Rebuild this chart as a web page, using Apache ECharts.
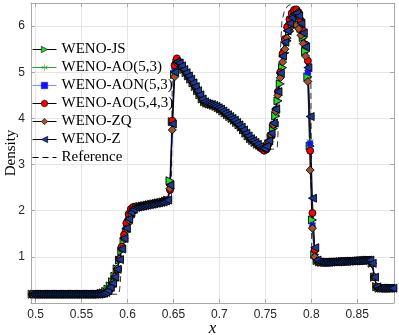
<!DOCTYPE html>
<html>
<head>
<meta charset="utf-8">
<script src="https://cdn.jsdelivr.net/npm/echarts@6/dist/echarts.min.js"></script>
<style>
  html, body { margin: 0; padding: 0; background: #fff; }
  #chart { width: 399px; height: 335px; }
</style>
</head>
<body>
<div id="chart"></div>
<script>
// mesh: cell centres x0 + i*dx, 158 cells shown
var x0 = 0.49625
var dx = 0.0025

// parts of the density profile that all schemes share
var leftState = [0.19, 0.19, 0.19, 0.19, 0.19, 0.19, 0.19, 0.19, 0.19, 0.19,
  0.19, 0.19, 0.19, 0.19, 0.19, 0.19, 0.19, 0.19, 0.19, 0.19,
  0.19, 0.19, 0.19, 0.19, 0.19, 0.19, 0.19, 0.19, 0.19, 0.19]
var plateauLo = [2.08, 2.09, 2.10, 2.11, 2.12, 2.13, 2.14, 2.15, 2.16, 2.17, 2.18, 2.19, 2.21, 2.23]
var plateauHi = [5.06, 4.99, 4.92, 4.85, 4.77, 4.69, 4.60, 4.51, 4.42, 4.36, 4.33, 4.31, 4.30, 4.28,
  4.26, 4.23, 4.20, 4.16, 4.12, 4.08, 4.04, 4.00, 3.96, 3.91, 3.86, 3.81, 3.75, 3.68,
  3.62, 3.56, 3.52, 3.48, 3.44]
var rightState = [0.89, 0.88, 0.88, 0.88, 0.88, 0.885, 0.89, 0.89, 0.89, 0.895, 0.90, 0.90,
  0.90, 0.905, 0.91, 0.91, 0.91, 0.915, 0.92, 0.92, 0.925, 0.93, 0.93,
  0.86, 0.56, 0.35, 0.32, 0.32, 0.32, 0.32, 0.32, 0.32, 0.32]

// contact (x 0.571-0.609), jump (0.646-0.659), peak + shock (0.744-0.806)
var jsContact = [0.21, 0.22, 0.25, 0.30, 0.37, 0.46, 0.58, 0.74, 0.93, 1.13, 1.34, 1.54, 1.72, 1.86, 1.96, 2.03]
var jsJump = [2.65, 3.93, 4.95, 5.20, 5.19, 5.13]
var jsPeak = [3.42, 3.38, 3.36, 3.37, 3.45, 3.58, 3.78, 4.05, 4.38, 4.75, 5.10, 5.42, 5.68,
  5.88, 6.02, 6.10, 6.12, 6.08, 5.95, 5.75, 5.45, 4.90, 3.40, 1.80, 1.05, 0.92]

var ao53Contact = [0.20, 0.21, 0.23, 0.27, 0.33, 0.42, 0.55, 0.72, 0.93, 1.16, 1.40, 1.63, 1.83, 1.97, 2.04, 2.07]
var ao53Jump = [2.50, 3.90, 5.05, 5.24, 5.20, 5.14]
var ao53Peak = [3.39, 3.35, 3.33, 3.37, 3.48, 3.64, 3.87, 4.18, 4.56, 4.97, 5.36, 5.67, 5.93,
  6.10, 6.22, 6.29, 6.30, 6.24, 6.08, 5.87, 5.57, 5.00, 3.50, 1.70, 1.00, 0.90]

var aonContact = [0.20, 0.21, 0.23, 0.26, 0.33, 0.42, 0.55, 0.72, 0.94, 1.17, 1.41, 1.64, 1.84, 1.97, 2.04, 2.07]
var aonJump = [2.52, 3.90, 5.05, 5.24, 5.20, 5.14]
var aonPeak = [3.39, 3.35, 3.33, 3.37, 3.48, 3.64, 3.88, 4.19, 4.57, 4.98, 5.37, 5.68, 5.94,
  6.11, 6.23, 6.30, 6.31, 6.25, 6.09, 5.88, 5.58, 5.00, 3.45, 1.68, 1.00, 0.90]

var ao543Contact = [0.19, 0.20, 0.21, 0.24, 0.30, 0.39, 0.53, 0.72, 0.96, 1.22, 1.48, 1.73, 1.93, 2.04, 2.08, 2.09]
var ao543Jump = [2.45, 3.95, 5.15, 5.30, 5.22, 5.15]
var ao543Peak = [3.38, 3.34, 3.30, 3.33, 3.45, 3.62, 3.86, 4.18, 4.58, 5.00, 5.40, 5.72, 5.98,
  6.15, 6.28, 6.35, 6.36, 6.30, 6.12, 5.90, 5.60, 5.25, 3.30, 1.95, 1.15, 0.92]

var zqContact = [0.20, 0.21, 0.23, 0.27, 0.34, 0.44, 0.57, 0.74, 0.95, 1.17, 1.40, 1.61, 1.80, 1.94, 2.02, 2.06]
var zqJump = [2.48, 3.75, 4.90, 5.20, 5.19, 5.13]
var zqPeak = [3.40, 3.37, 3.36, 3.40, 3.50, 3.65, 3.86, 4.15, 4.50, 4.88, 5.22, 5.50, 5.74,
  5.90, 6.00, 6.04, 6.02, 5.94, 5.80, 5.62, 5.35, 4.80, 2.88, 1.62, 1.00, 0.91]

var zContact = [0.20, 0.21, 0.23, 0.27, 0.34, 0.43, 0.56, 0.73, 0.94, 1.17, 1.40, 1.62, 1.82, 1.96, 2.03, 2.07]
var zJump = [2.55, 3.88, 5.00, 5.22, 5.20, 5.14]
var zPeak = [3.39, 3.36, 3.35, 3.40, 3.52, 3.68, 3.90, 4.20, 4.58, 4.98, 5.35, 5.65, 5.90,
  6.06, 6.18, 6.26, 6.28, 6.22, 6.06, 5.85, 5.55, 5.10, 4.04, 2.27, 1.20, 0.93]

// reference solution (fine mesh)
var refX = [0.495, 0.5905, 0.5915, 0.594, 0.5965, 0.5985, 0.602, 0.61, 0.645, 0.6478, 0.6488, 0.652,
  0.66, 0.67, 0.68, 0.683, 0.69, 0.70, 0.71, 0.72, 0.73, 0.74, 0.75, 0.758, 0.763, 0.7645, 0.766,
  0.768, 0.771, 0.775, 0.779, 0.783, 0.787, 0.79, 0.793, 0.796, 0.7985, 0.7995, 0.8005, 0.81,
  0.865, 0.8665, 0.8675, 0.89]
var refRho = [0.19, 0.19, 0.30, 0.90, 1.65, 1.95, 2.05, 2.08, 2.24, 2.27, 5.22, 5.27,
  5.08, 4.78, 4.46, 4.36, 4.30, 4.21, 4.05, 3.86, 3.64, 3.46, 3.36, 3.33, 3.36, 4.00, 5.30,
  6.10, 6.35, 6.45, 6.47, 6.42, 6.26, 6.05, 5.72, 5.30, 4.95, 4.85, 0.90, 0.89,
  0.93, 0.93, 0.32, 0.32]

var xTicks = [0.5, 0.55, 0.6, 0.65, 0.7, 0.75, 0.8, 0.85]
var yTicks = [1, 2, 3, 4, 5, 6]

function profile(contact, jump, peak) {
  var rho = [].concat(leftState, contact, plateauLo, jump, plateauHi, peak, rightState)
  return rho.map(function (r, i) {
    return [+(x0 + i * dx).toFixed(5), r]
  })
}

var serif = 'Liberation Serif'
var frame = '#a8a8a8'
var asterisk = 'path://M0,-5L0,5M-4.3,-2.5L4.3,2.5M-4.3,2.5L4.3,-2.5'

function scheme(name, data, opt) {
  return {
    name: name,
    type: 'line',
    data: data,
    symbol: opt.symbol,
    symbolSize: opt.size,
    symbolRotate: opt.rotate || 0,
    showSymbol: true,
    itemStyle: {
      color: opt.fill,
      borderColor: opt.edge,
      borderWidth: opt.edgeWidth || 0.9,
    },
    lineStyle: { color: opt.line, width: opt.lineWidth || 0.8 },
    emphasis: { disabled: true },
  }
}

var myChart = echarts.init(document.getElementById('chart'))
myChart.setOption({
  animation: false,
  grid: { left: 31, right: 5, top: 3, bottom: 32, outerBoundsMode: 'none', containLabel: false },
  legend: {
    orient: 'vertical',
    left: 32,
    top: 41,
    padding: 0,
    itemWidth: 24,
    itemHeight: 8,
    itemGap: 1,
    itemStyle: { borderWidth: 0.6 },
    lineStyle: { width: 1 },
    textStyle: { fontFamily: serif, fontSize: 15, color: '#000', lineHeight: 17 },
    data: ['WENO-JS', 'WENO-AO(5,3)', 'WENO-AON(5,3)', 'WENO-AO(5,4,3)', 'WENO-ZQ', 'WENO-Z', 'Reference'],
  },
  xAxis: [
    {
      type: 'value',
      min: 0.495,
      max: 0.89,
      position: 'bottom',
      name: 'x',
      nameLocation: 'middle',
      nameGap: 17,
      nameMoveOverlap: false,
      nameTextStyle: { fontFamily: serif, fontStyle: 'italic', fontSize: 17, color: '#000' },
      axisLine: { show: true, onZero: false, lineStyle: { color: frame, width: 1 } },
      axisTick: { inside: true, length: 4, customValues: xTicks, lineStyle: { color: frame } },
      axisLabel: {
        customValues: xTicks,
        margin: 6,
        fontFamily: 'Liberation Sans',
        fontSize: 12,
        color: '#262626',
        formatter: function (v) { return String(+v.toFixed(2)) },
      },
      splitLine: { show: true, lineStyle: { color: '#e6e6e6', width: 1 } },
    },
    {
      type: 'value',
      min: 0.495,
      max: 0.89,
      position: 'top',
      axisLine: { show: true, onZero: false, lineStyle: { color: frame, width: 1 } },
      axisTick: { inside: true, length: 4, customValues: xTicks, lineStyle: { color: frame } },
      axisLabel: { show: false },
      splitLine: { show: false },
    },
  ],
  yAxis: [
    {
      type: 'value',
      min: 0,
      max: 6.5,
      position: 'left',
      name: 'Density',
      nameLocation: 'middle',
      nameGap: 12,
      nameMoveOverlap: false,
      nameTextStyle: { fontFamily: serif, fontSize: 15, color: '#000' },
      axisLine: { show: true, onZero: false, lineStyle: { color: frame, width: 1 } },
      axisTick: { inside: true, length: 4, customValues: yTicks, lineStyle: { color: frame } },
      axisLabel: { customValues: yTicks, margin: 6, fontFamily: 'Liberation Sans', fontSize: 12, color: '#262626' },
      splitLine: { show: true, lineStyle: { color: '#e6e6e6', width: 1 } },
    },
    {
      type: 'value',
      min: 0,
      max: 6.5,
      position: 'right',
      axisLine: { show: true, onZero: false, lineStyle: { color: frame, width: 1 } },
      axisTick: { inside: true, length: 4, customValues: yTicks, lineStyle: { color: frame } },
      axisLabel: { show: false },
      splitLine: { show: false },
    },
  ],
  series: [
    scheme('WENO-JS', profile(jsContact, jsJump, jsPeak),
      { symbol: 'triangle', rotate: -90, size: 8, fill: '#1ee01e', edge: '#000', line: '#000' }),
    scheme('WENO-AO(5,3)', profile(ao53Contact, ao53Jump, ao53Peak),
      { symbol: asterisk, size: 7, fill: '#2f9a2f', edge: '#2f9a2f', edgeWidth: 1, line: '#2f9a2f' }),
    scheme('WENO-AON(5,3)', profile(aonContact, aonJump, aonPeak),
      { symbol: 'rect', size: 5, fill: '#1010ff', edge: '#1010ff', line: '#8a8aff', lineWidth: 2 }),
    scheme('WENO-AO(5,4,3)', profile(ao543Contact, ao543Jump, ao543Peak),
      { symbol: 'circle', size: 7, fill: '#ff0000', edge: '#000', line: '#000' }),
    scheme('WENO-ZQ', profile(zqContact, zqJump, zqPeak),
      { symbol: 'diamond', size: 8, fill: '#a0522d', edge: '#000', line: '#000' }),
    scheme('WENO-Z', profile(zContact, zJump, zPeak),
      { symbol: 'triangle', rotate: 90, size: 8, fill: '#1c3a94', edge: '#000', line: '#000' }),
    {
      name: 'Reference',
      type: 'line',
      data: refX.map(function (x, i) { return [x, refRho[i]] }),
      symbol: 'none',
      itemStyle: { color: 'rgba(0,0,0,0)', borderWidth: 0 },
      lineStyle: { color: '#000', width: 0.8, type: [6, 4] },
      emphasis: { disabled: true },
      z: 3,
    },
  ],
})
</script>
</body>
</html>
